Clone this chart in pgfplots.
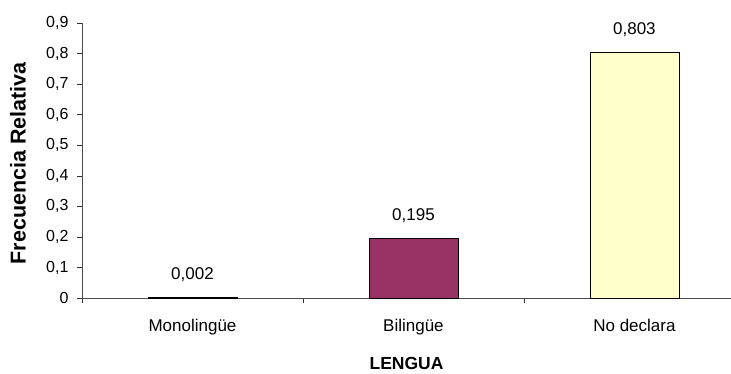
\documentclass[border=0pt]{standalone}
\usepackage{fontspec}
\setmainfont{Liberation Sans}
\usepackage{pgfplots}
\pgfplotsset{compat=1.18}
\definecolor{plum}{HTML}{993366}
\definecolor{ivory}{HTML}{FFFFCC}
\definecolor{peri}{HTML}{9999FF}
\begin{document}
\begin{tikzpicture}
\begin{axis}[
  scale only axis, width=649pt, height=275pt,
  xmin=-0.5, xmax=2.437, ymin=0, ymax=0.9,
  axis x line*=bottom, axis y line*=left,
  axis line style={-, draw=black!70},
  tick align=outside, major tick length=5pt,
  tick style={draw=black!80, thin},
  ytick={0,0.1,0.2,0.3,0.4,0.5,0.6,0.7,0.8,0.9},
  /pgf/number format/assume math mode=true,
  yticklabel={\pgfmathprintnumber[fixed, precision=1, use comma]{\tick}},
  yticklabel style={font=\fontsize{16}{18}\selectfont, xshift=-5pt},
  xtick={-0.5,0.5,1.5}, xticklabels={},
  extra x ticks={0,1,2},
  extra x tick labels={Monolingüe,Bilingüe,No declara},
  extra x tick style={major tick length=0pt,
    tick label style={font=\fontsize{17}{19}\selectfont, yshift=-18pt}},
  xlabel={LENGUA},
  xlabel style={font=\bfseries\fontsize{17.5}{19}\selectfont, at={(axis description cs:0.5,-0.2364)}, anchor=center},
  ylabel={Frecuencia Relativa},
  ylabel style={font=\bfseries\fontsize{21.5}{23}\selectfont, at={(axis description cs:-0.0986,0.49)}, anchor=center},
  nodes near coords={\pgfmathprintnumber[fixed, fixed zerofill, precision=3, use comma]{\pgfplotspointmeta}},
  every node near coord/.append style={font=\fontsize{17}{19}\selectfont, anchor=center, yshift=23pt, text=black},
  clip=false,
]
\addplot[ybar, bar width=89pt, bar shift=0pt, fill=peri, draw=black] coordinates {(0,0.002)};
\addplot[ybar, bar width=89pt, bar shift=0pt, fill=plum, draw=black] coordinates {(1,0.195)};
\addplot[ybar, bar width=89pt, bar shift=0pt, fill=ivory, draw=black] coordinates {(2,0.803)};
\coordinate (O) at (axis description cs:0,0);
\end{axis}
\pgfresetboundingbox
\path[use as bounding box] (O) ++(-82pt,-76pt) rectangle ++(731pt,374pt);
\end{tikzpicture}
\end{document}
